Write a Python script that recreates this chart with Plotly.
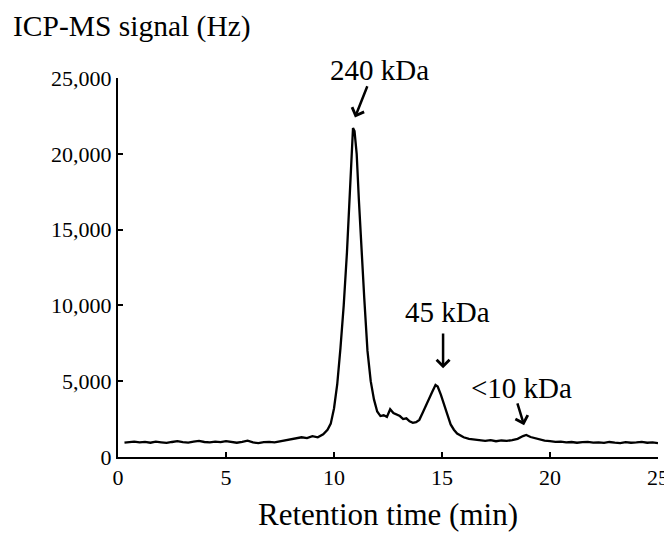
import plotly.graph_objects as go

time_min = [0.3, 0.5, 0.75, 1.0, 1.25, 1.5, 1.75, 2.0, 2.25, 2.5, 2.75, 3.0, 3.25, 3.5, 3.75,
            4.0, 4.25, 4.5, 4.75, 5.0, 5.25, 5.5, 5.75, 6.0, 6.25, 6.5, 6.75, 7.0, 7.25, 7.5,
            7.75, 8.0, 8.25, 8.5, 8.75, 9.0, 9.25, 9.5, 9.7, 9.85, 10.0, 10.15, 10.3, 10.45,
            10.6, 10.7, 10.8, 10.88, 10.95, 11.05, 11.15, 11.25, 11.4, 11.55, 11.7, 11.85,
            12.0, 12.15, 12.3, 12.45, 12.6, 12.75, 12.9, 13.05, 13.2, 13.35, 13.5, 13.65,
            13.8, 13.95, 14.1, 14.25, 14.4, 14.55, 14.7, 14.8, 14.95, 15.1, 15.25, 15.4,
            15.55, 15.7, 15.85, 16.0, 16.25, 16.5, 16.75, 17.0, 17.25, 17.5, 17.75, 18.0,
            18.25, 18.5, 18.75, 18.9, 19.1, 19.3, 19.5, 19.75, 20.0, 20.25, 20.5, 20.75,
            21.0, 21.25, 21.5, 21.75, 22.0, 22.25, 22.5, 22.75, 23.0, 23.25, 23.5, 23.75,
            24.0, 24.25, 24.5, 24.75, 25.0]
signal_hz = [950, 980, 1020, 960, 1000, 940, 1010, 970, 930, 990, 1040, 980, 950, 1010, 1060,
             990, 960, 1020, 980, 1050, 970, 940, 1000, 1080, 960, 920, 980, 1000, 960, 1030,
             1050, 1120, 1200, 1300, 1250, 1380, 1300, 1500, 1800, 2200, 3200, 4800, 7200, 10000,
             13500, 16500, 19500, 21700, 21500, 20000, 17000, 14000, 10500, 7000, 5000, 3800,
             3000, 2700, 2750, 2650, 3150, 2900, 2800, 2700, 2500, 2550, 2350, 2250,
             2300, 2450, 2900, 3400, 3900, 4300, 4750, 4650, 4100, 3500, 2800, 2150,
             1800, 1550, 1400, 1300, 1200, 1150, 1100, 1060, 1110, 1040, 1090, 1060,
             1120, 1200, 1380, 1450, 1320, 1250, 1150, 1080, 1050, 1000, 1020, 960,
             990, 940, 980, 1000, 950, 970, 930, 990, 950, 920, 980, 940,
             960, 1000, 940, 970, 920]

x_ticks = [0, 5, 10, 15, 20, 25]
y_ticks = [0, 5000, 10000, 15000, 20000, 25000]

peak_labels = ["240 kDa", "45 kDa", "<10 kDa"]
label_pos = [(12.1, 25500), (15.25, 9550), (18.7, 4550)]
arrow_tail = [(11.57, 24550), (15.05, 8250), (18.47, 3630)]
arrow_head = [(10.97, 22400), (15.05, 5850), (18.8, 2100)]

FONT = "Liberation Serif, Times New Roman, serif"
PAGE_PAD = 8  # default body margin of the html page
W, H = 672 - PAGE_PAD, 537 - PAGE_PAD
ML, MT = 118 - PAGE_PAD, 78 - PAGE_PAD
MR = W - (658 - PAGE_PAD)
MB = H - (457 - PAGE_PAD)
PW, PH = W - ML - MR, H - MT - MB
X_MAX, Y_MAX = 25, 25000

fig = go.Figure()
fig.add_trace(go.Scatter(x=time_min, y=signal_hz, mode="lines",
                         line=dict(color="black", width=2.3), showlegend=False,
                         hoverinfo="skip"))

for txt, (tx, ty) in zip(peak_labels, label_pos):
    fig.add_annotation(x=tx / X_MAX, y=ty / Y_MAX, xref="paper", yref="paper", text=txt,
                       xanchor="center", yanchor="middle",
                       showarrow=False, font=dict(family=FONT, size=29, color="black"))
for (ax_, ay_), (hx, hy) in zip(arrow_tail, arrow_head):
    fig.add_annotation(x=hx, y=hy, xref="x", yref="y", ax=ax_, ay=ay_,
                       axref="x", ayref="y", text="", showarrow=True,
                       arrowhead=4, arrowsize=1.0, arrowwidth=2.5, arrowcolor="black")

fig.add_annotation(x=(11 - PAGE_PAD - ML) / PW, y=1 + (MT - (27 - PAGE_PAD)) / PH,
                   xref="paper", yref="paper",
                   text="ICP-MS signal (Hz)", showarrow=False, xanchor="left", yanchor="middle",
                   font=dict(family=FONT, size=29.5, color="black"))

fig.update_layout(
    width=W, height=H,
    margin=dict(l=ML, r=MR, t=MT, b=MB),
    paper_bgcolor="white", plot_bgcolor="white",
    font=dict(family=FONT, color="black"),
    xaxis=dict(range=[0, X_MAX], tickvals=x_ticks, showgrid=False, zeroline=False,
               showline=True, linecolor="black", linewidth=2, automargin=False,
               ticks="inside", ticklen=5, tickwidth=1.5, tickcolor="black",
               tickfont=dict(family=FONT, size=22, color="black"),
               title=dict(text="Retention time (min)", standoff=14,
                          font=dict(family=FONT, size=31, color="black"))),
    yaxis=dict(range=[0, Y_MAX], tickvals=y_ticks, tickformat=",d", showgrid=False,
               zeroline=False, showline=True, linecolor="black", linewidth=2,
               automargin=False,
               ticks="inside", ticklen=5, tickwidth=1.5, tickcolor="black",
               tickfont=dict(family=FONT, size=22, color="black")),
)

fig.write_html("out.html")
